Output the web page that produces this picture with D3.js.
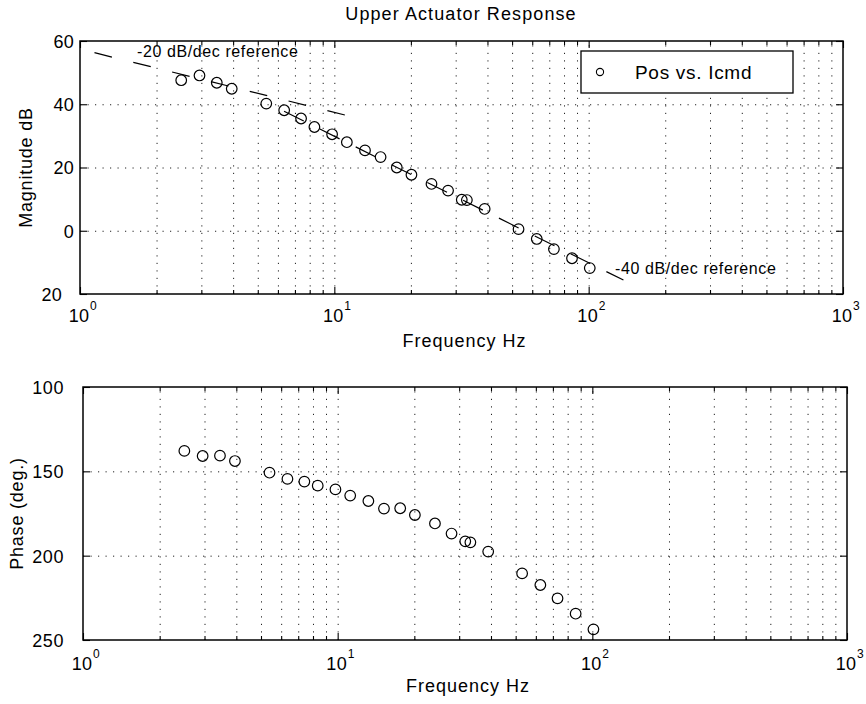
<!DOCTYPE html>
<html>
<head>
<meta charset="utf-8">
<title>Upper Actuator Response</title>
<script src="https://cdn.jsdelivr.net/npm/d3@7"></script>
<style>
  body { margin: 0; background: #fff; }
  text { font-family: "Liberation Sans", Arial, Helvetica, sans-serif; fill: #000; }
  .domain { display: none; }
</style>
</head>
<body>
<svg id="chart" width="866" height="704"></svg>
<script>
// measured points (Hz)
const freqs = [2.5, 2.95, 3.45, 3.95, 5.4, 6.35, 7.4, 8.35, 9.8, 11.2, 13.2, 15.2,
  17.6, 20.1, 24.1, 28, 31.7, 33.2, 39, 53, 62.5, 73, 86, 101];
const magDb = [47.6, 49.1, 46.8, 44.9, 40.2, 38.1, 35.5, 32.8, 30.5, 28.0, 25.4, 23.3,
  20.0, 17.7, 14.8, 12.7, 9.8, 9.7, 6.9, 0.5, -2.6, -5.8, -8.7, -11.8];
const phaseDeg = [137.9, 140.9, 140.7, 143.9, 150.8, 154.5, 156.1, 158.5, 160.7, 164.4, 167.6, 172.1,
  171.9, 175.9, 180.9, 186.9, 191.5, 192.1, 197.6, 210.5, 217.4, 225.3, 234.4, 243.7];

// slope reference lines (end points)
const ref20Freq = [1.14, 11.4];
const ref20Db = [56.3, 36.3];
const ref40Freq = [5.85, 137];
const ref40Db = [39.2, -15.6];

const decades = [1, 10, 100, 1000];
const magTicks = [-20, 0, 20, 40, 60];
const phaseTicks = [100, 150, 200, 250];

const svg = d3.select("#chart");

// 2..9 of each decade, plus inner decades
const minorTicks = [];
[1, 10, 100].forEach(d => { for (let k = 2; k <= 9; k++) minorTicks.push(d * k); });
const gridX = minorTicks.concat([10, 100]);

function drawPanel(o) {
  const x = d3.scaleLog().domain([1, 1000]).range([o.left, o.right]);
  const y = d3.scaleLinear().domain(o.yDomain).range([o.bottom, o.top]);
  const g = svg.append("g");
  const h = o.bottom - o.top, w = o.right - o.left;

  // dotted grid
  g.append("g").attr("transform", `translate(0,${o.bottom})`)
    .call(d3.axisBottom(x).tickValues(gridX).tickSize(-h).tickFormat(""))
    .selectAll("line").attr("class", "grid");
  g.append("g").attr("transform", `translate(${o.left},0)`)
    .call(d3.axisLeft(y).tickValues(o.yTicks.slice(1, -1)).tickSize(-w).tickFormat(""))
    .selectAll("line").attr("class", "grid");

  // inward ticks, all four sides
  g.append("g").attr("transform", `translate(0,${o.bottom})`)
    .call(d3.axisBottom(x).tickValues(minorTicks).tickSize(-4).tickFormat(""));
  g.append("g").attr("transform", `translate(0,${o.bottom})`)
    .call(d3.axisBottom(x).tickValues(decades).tickSize(-7).tickFormat(""));
  g.append("g").attr("transform", `translate(0,${o.top})`)
    .call(d3.axisTop(x).tickValues(minorTicks).tickSize(-4).tickFormat(""));
  g.append("g").attr("transform", `translate(0,${o.top})`)
    .call(d3.axisTop(x).tickValues(decades).tickSize(-7).tickFormat(""));
  g.append("g").attr("transform", `translate(${o.right},0)`)
    .call(d3.axisRight(y).tickValues(o.yTicks).tickSize(-7).tickFormat(""));

  const leftAx = g.append("g").attr("transform", `translate(${o.left},0)`)
    .call(d3.axisLeft(y).tickValues(o.yTicks).tickSize(-7).tickPadding(o.yPad)
      .tickFormat(d => Math.abs(d)));
  leftAx.selectAll("text")
    .style("font-size", "18px").attr("letter-spacing", o.yLetter)
    .attr("dy", "0.36em")
    .attr("dx", d => (o.shiftLabel && d === o.shiftLabel ? -12 : 0));

  g.selectAll(".tick line").attr("stroke", "#000").attr("stroke-width", 1.1);
  g.selectAll("line.grid").attr("stroke", "#222").attr("stroke-width", 1)
    .attr("stroke-dasharray", "1.2,6.3");

  // 10^n labels
  const lab = g.append("g");
  lab.selectAll(".base").data(decades).join("text")
    .attr("x", d => x(d) - 1).attr("y", o.bottom + o.labDy)
    .attr("text-anchor", "middle").attr("letter-spacing", 0.3)
    .style("font-size", "18px").text("10");
  lab.selectAll(".exp").data(decades).join("text")
    .attr("x", d => x(d) + 10).attr("y", o.bottom + o.labDy - 12)
    .style("font-size", "12px").text(d => Math.round(Math.log10(d)));

  // frame
  g.append("rect").attr("x", o.left).attr("y", o.top).attr("width", w).attr("height", h)
    .attr("fill", "none").attr("stroke", "#000").attr("stroke-width", 1.5);

  g.append("text").attr("x", (o.left + o.right) / 2 + 3).attr("y", o.bottom + o.xLabDy)
    .attr("text-anchor", "middle").attr("letter-spacing", 1)
    .style("font-size", "18px").text("Frequency Hz");
  g.append("text")
    .attr("transform", `translate(${o.yLabX},${(o.top + o.bottom) / 2}) rotate(-90)`)
    .attr("text-anchor", "middle").attr("letter-spacing", 0.8)
    .style("font-size", "18px").text(o.yLabel);

  return { g, x, y };
}

// ---- magnitude panel
const magPanel = drawPanel({
  left: 80, right: 843, top: 41, bottom: 294,
  yDomain: [-20, 60], yTicks: magTicks, yPad: 6, yLetter: 0.3, shiftLabel: -20,
  labDy: 28, xLabDy: 53, yLabX: 32, yLabel: "Magnitude dB"
});

svg.append("text").attr("x", 461).attr("y", 20).attr("text-anchor", "middle")
  .attr("letter-spacing", 1.1).style("font-size", "18px").text("Upper Actuator Response");

const refLine = d3.line().x(d => magPanel.x(d[0])).y(d => magPanel.y(d[1]));
magPanel.g.append("path").datum(d3.zip(ref20Freq, ref20Db))
  .attr("d", refLine).attr("fill", "none").attr("stroke", "#000")
  .attr("stroke-width", 1.2).attr("stroke-dasharray", "18,22");
magPanel.g.append("path").datum(d3.zip(ref40Freq, ref40Db))
  .attr("d", refLine).attr("fill", "none").attr("stroke", "#000")
  .attr("stroke-width", 1.2).attr("stroke-dasharray", "22,18").attr("stroke-dashoffset", 30);

magPanel.g.append("text").attr("x", 137).attr("y", 57).attr("letter-spacing", 0.6)
  .style("font-size", "16px").text("-20 dB/dec reference");
magPanel.g.append("text").attr("x", 615).attr("y", 274).attr("letter-spacing", 0.6)
  .style("font-size", "16px").text("-40 dB/dec reference");

magPanel.g.selectAll(".pt").data(d3.zip(freqs, magDb)).join("circle")
  .attr("cx", d => magPanel.x(d[0])).attr("cy", d => magPanel.y(d[1])).attr("r", 5.3)
  .attr("fill", "none").attr("stroke", "#000").attr("stroke-width", 1.2);

// legend
const leg = magPanel.g.append("g");
leg.append("rect").attr("x", 581).attr("y", 51).attr("width", 212).attr("height", 42)
  .attr("fill", "#fff").attr("stroke", "#000").attr("stroke-width", 1.3);
leg.append("circle").attr("cx", 600).attr("cy", 72).attr("r", 3.6)
  .attr("fill", "none").attr("stroke", "#000").attr("stroke-width", 1.1);
leg.append("text").attr("x", 635).attr("y", 79).attr("letter-spacing", 0.7)
  .style("font-size", "19px").text("Pos vs. Icmd");

// ---- phase panel (axis reversed: 100 on top)
const phasePanel = drawPanel({
  left: 83, right: 847, top: 387, bottom: 640,
  yDomain: [250, 100], yTicks: phaseTicks, yPad: 19, yLetter: 0.6,
  labDy: 30, xLabDy: 52, yLabX: 23, yLabel: "Phase (deg.)"
});

phasePanel.g.selectAll(".pt").data(d3.zip(freqs, phaseDeg)).join("circle")
  .attr("cx", d => phasePanel.x(d[0])).attr("cy", d => phasePanel.y(d[1])).attr("r", 5.3)
  .attr("fill", "none").attr("stroke", "#000").attr("stroke-width", 1.2);
</script>
</body>
</html>
